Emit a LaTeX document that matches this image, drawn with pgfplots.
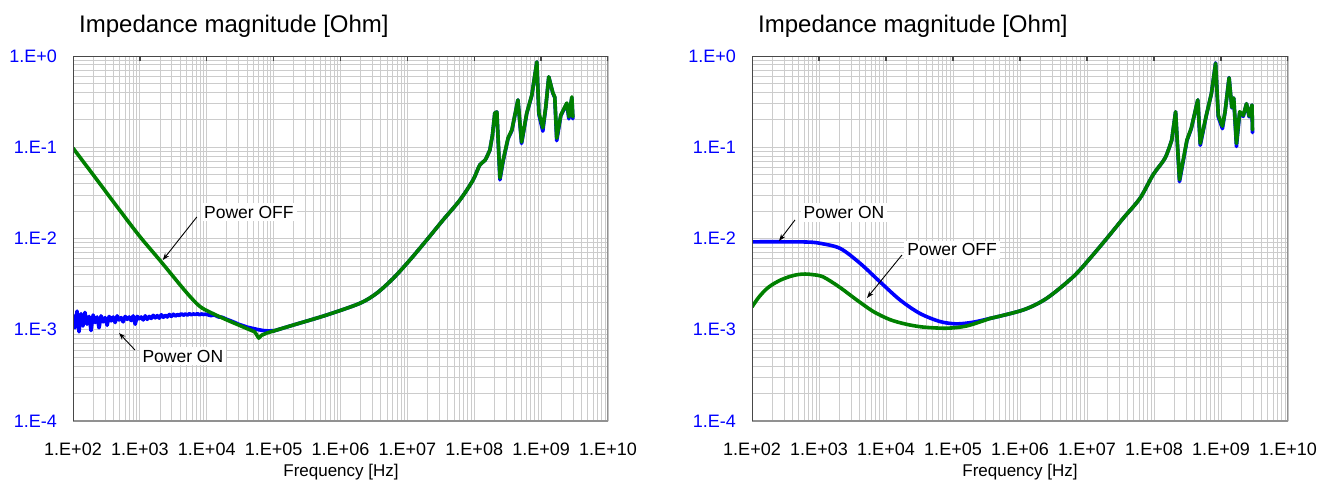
\documentclass[border=0pt]{standalone}
\usepackage{pgfplots}
\pgfplotsset{compat=1.18}
\usepackage{pgfplotstable}
\usepackage{fontspec}
\setmainfont{Liberation Sans}
\usetikzlibrary{arrows.meta}

\definecolor{onblue}{RGB}{0,0,255}
\definecolor{offgreen}{RGB}{0,128,0}
\definecolor{gridgray}{RGB}{204,204,204}
\definecolor{framedark}{RGB}{72,72,72}
\definecolor{framelight}{RGB}{145,145,145}

\newcommand\ticklabelfont{\fontsize{18bp}{20bp}\selectfont}
\newcommand\titlefont{\fontsize{24bp}{28bp}\selectfont}
\newcommand\labelfont{\fontsize{17bp}{20bp}\selectfont}
\newcommand\notefont{\fontsize{17.5bp}{20bp}\selectfont}

% ---------- left panel: power ON, low-frequency part (noisy) ----------
\pgfplotstableread{
f Z
100 1.45e-3
107 1.05e-3
115 1.60e-3
123 0.95e-3
132 1.50e-3
141 1.10e-3
151 1.55e-3
162 1.15e-3
174 1.40e-3
186 0.98e-3
200 1.45e-3
214 1.20e-3
229 1.38e-3
245 1.05e-3
263 1.42e-3
282 1.22e-3
302 1.36e-3
324 1.12e-3
347 1.40e-3
372 1.25e-3
398 1.38e-3
427 1.20e-3
457 1.42e-3
490 1.28e-3
525 1.36e-3
562 1.22e-3
603 1.40e-3
646 1.30e-3
692 1.38e-3
741 1.26e-3
794 1.42e-3
851 1.15e-3
912 1.40e-3
977 1.32e-3
1047 1.38e-3
1122 1.28e-3
1202 1.42e-3
1288 1.30e-3
1380 1.40e-3
1479 1.33e-3
1585 1.44e-3
1698 1.35e-3
1820 1.43e-3
1950 1.34e-3
2089 1.46e-3
2239 1.37e-3
2399 1.44e-3
2570 1.38e-3
2754 1.47e-3
2951 1.40e-3
3162 1.48e-3
3388 1.41e-3
3631 1.47e-3
3890 1.43e-3
4169 1.50e-3
4467 1.44e-3
4786 1.49e-3
5129 1.45e-3
5495 1.50e-3
5888 1.46e-3
6310 1.49e-3
6761 1.47e-3
7244 1.50e-3
7762 1.46e-3
8318 1.49e-3
8913 1.47e-3
9550 1.48e-3
10000 1.47e-3
11500 1.43e-3
13000 1.45e-3
15000 1.38e-3
17000 1.37e-3
20000 1.30e-3
25000 1.22e-3
30000 1.15e-3
40000 1.07e-3
50000 1.03e-3
60000 1.00e-3
70000 0.98e-3
85000 0.97e-3
100000 0.98e-3
}\leftOnLow

% ---------- left panel: power OFF, capacitive slope ----------
\pgfplotstableread{
f Z
100 0.098
200 0.050
500 0.0204
1000 0.0105
2000 5.75e-3
5000 2.55e-3
7900 1.80e-3
12000 1.52e-3
20000 1.28e-3
40000 1.03e-3
}\leftOffLow

% ---------- left panel: power OFF, notch near 60 kHz ----------
\pgfplotstableread{
f Z
40000 1.03e-3
52000 0.95e-3
60000 0.81e-3
66000 0.87e-3
79000 0.92e-3
100000 0.97e-3
}\leftOffNotch

% ---------- left panel: common inductive rise ----------
\pgfplotstableread{
f Z
1e5 0.97e-3
2e5 1.13e-3
6.2e5 1.45e-3
1.95e6 1.95e-3
3.47e6 2.51e-3
6.14e6 3.66e-3
1.09e7 5.81e-3
1.94e7 9.6e-3
3.43e7 0.0160
6.1e7 0.0264
9.6e7 0.0438
1.21e8 0.064
1.45e8 0.072
1.71e8 0.093
}\leftMid

% ---------- left panel: resonances, power ON ----------
\pgfplotstableread{
f Z
1.71e8 0.093
1.87e8 0.135
2.03e8 0.237
2.18e8 0.243
2.42e8 0.044
2.7e8 0.070
3.2e8 0.124
3.65e8 0.152
4.5e8 0.33
5.1e8 0.110
6.1e8 0.235
7.26e8 0.37
8.63e8 0.86
9.25e8 0.230
1.06e9 0.150
1.17e9 0.27
1.3e9 0.59
1.5e9 0.390
1.6e9 0.350
1.71e9 0.118
1.97e9 0.222
2.26e9 0.272
2.42e9 0.300
2.6e9 0.205
2.88e9 0.350
2.98e9 0.205
}\leftResOn

% ---------- left panel: resonances, power OFF ----------
\pgfplotstableread{
f Z
1.71e8 0.093
1.87e8 0.135
2.03e8 0.237
2.18e8 0.243
2.42e8 0.046
2.7e8 0.072
3.2e8 0.126
3.65e8 0.155
4.5e8 0.33
5.1e8 0.114
6.1e8 0.237
7.26e8 0.374
8.63e8 0.86
9.25e8 0.237
1.06e9 0.163
1.17e9 0.27
1.3e9 0.59
1.5e9 0.394
1.6e9 0.356
1.71e9 0.126
1.97e9 0.225
2.26e9 0.276
2.42e9 0.305
2.6e9 0.215
2.88e9 0.356
2.98e9 0.215
}\leftResOff

% ---------- right panel: power ON, low-frequency part ----------
\pgfplotstableread{
f Z
100 9.2e-3
300 9.2e-3
655 9.15e-3
1000 8.9e-3
2060 7.8e-3
4100 5.35e-3
8100 3.36e-3
16200 2.12e-3
32000 1.51e-3
64000 1.23e-3
113000 1.16e-3
200000 1.21e-3
356000 1.33e-3
}\rightOnLow

% ---------- right panel: power OFF, low-frequency part ----------
\pgfplotstableread{
f Z
100 1.78e-3
125 2.25e-3
160 2.75e-3
200 3.12e-3
270 3.52e-3
370 3.84e-3
480 4.02e-3
620 4.08e-3
800 4.02e-3
1150 3.80e-3
2000 2.95e-3
3600 2.14e-3
6500 1.58e-3
11500 1.29e-3
20000 1.15e-3
36000 1.07e-3
80000 1.04e-3
160000 1.10e-3
356000 1.33e-3
}\rightOffLow

% ---------- right panel: common inductive rise ----------
\pgfplotstableread{
f Z
3.56e5 1.33e-3
1.12e6 1.65e-3
2.5e6 2.21e-3
6.25e6 3.82e-3
1.11e7 6.07e-3
1.97e7 0.0100
3.48e7 0.0167
6.18e7 0.0276
9.7e7 0.050
1.46e8 0.076
1.84e8 0.12
}\rightMid

% ---------- right panel: resonances, power ON ----------
\pgfplotstableread{
f Z
1.84e8 0.12
2.1e8 0.245
2.4e8 0.042
3.1e8 0.118
3.6e8 0.160
4.5e8 0.33
4.9e8 0.105
6.0e8 0.218
7.2e8 0.39
8.3e8 0.84
9.1e8 0.215
1.05e9 0.160
1.15e9 0.245
1.32e9 0.58
1.45e9 0.270
1.55e9 0.345
1.7e9 0.102
1.9e9 0.240
2.15e9 0.218
2.4e9 0.30
2.63e9 0.215
2.9e9 0.29
2.95e9 0.145
}\rightResOn

% ---------- right panel: resonances, power OFF ----------
\pgfplotstableread{
f Z
1.84e8 0.12
2.1e8 0.245
2.4e8 0.044
3.1e8 0.12
3.6e8 0.162
4.5e8 0.33
4.9e8 0.11
6.0e8 0.22
7.2e8 0.39
8.3e8 0.83
9.1e8 0.224
1.05e9 0.17
1.15e9 0.245
1.32e9 0.575
1.45e9 0.275
1.55e9 0.347
1.7e9 0.11
1.9e9 0.245
2.15e9 0.224
2.4e9 0.30
2.63e9 0.22
2.9e9 0.29
2.95e9 0.155
}\rightResOff

\tikzset{
  note/.style={font=\notefont, fill=white, inner sep=3bp},
  pointer/.style={-{Stealth[length=7bp,width=5bp]}, line width=0.9bp, black},
  curve/.style={line join=round, line cap=round, line width=3.6bp},
}

% frame and decade ticks drawn on top of the grid
\newcommand\impframe{%
  \draw[framelight, line width=1.4bp] (rel axis cs:0,0) -- (rel axis cs:1,0) -- (rel axis cs:1,1);
  \draw[framedark, line width=1.5bp] (rel axis cs:1,1) -- (rel axis cs:0,1) -- (rel axis cs:0,0);
  \pgfplotsinvokeforeach{2,...,10}{\draw[framedark, line width=1.3bp] (axis cs:1e##1,1) -- ([yshift=-5bp]axis cs:1e##1,1);}
  \pgfplotsinvokeforeach{0,-1,-2,-3,-4}{\draw[framedark, line width=1.3bp] (axis cs:1e2,1e##1) -- ([xshift=-6bp]axis cs:1e2,1e##1);}
}

\begin{document}
\begin{tikzpicture}
\useasboundingbox (0,0) rectangle (1321bp,481bp);

% left panel
\begin{axis}[
    scale only axis, width=535bp, height=365bp, anchor=south west, at={(73bp,60bp)},
    xmode=log, ymode=log,
    xmin=1e2, xmax=1e10, ymin=1e-4, ymax=1,
    xtick={1e2,1e3,1e4,1e5,1e6,1e7,1e8,1e9,1e10},
    xticklabels={1.E+02,1.E+03,1.E+04,1.E+05,1.E+06,1.E+07,1.E+08,1.E+09,1.E+10},
    ytick={1e-4,1e-3,1e-2,1e-1,1},
    yticklabels={1.E-4,1.E-3,1.E-2,1.E-1,1.E+0},
    grid=both,
    major grid style={gridgray, line width=0.8bp},
    minor grid style={gridgray, line width=0.8bp},
    major tick length=0pt, minor tick length=0pt,
    axis line style={draw=none},
    xticklabel style={font=\ticklabelfont, anchor=north, inner sep=0pt, yshift=-22bp},
    yticklabel style={font=\ticklabelfont, text=onblue, anchor=east, inner sep=0pt, xshift=-16bp},
  ]
  \addplot[onblue, curve] table[x=f, y=Z] {\leftOnLow};
  \addplot[onblue, curve, smooth] table[x=f, y=Z] {\leftMid};
  \addplot[onblue, curve] table[x=f, y=Z] {\leftResOn};
  \addplot[offgreen, curve, smooth] table[x=f, y=Z] {\leftOffLow};
  \addplot[offgreen, curve] table[x=f, y=Z] {\leftOffNotch};
  \addplot[offgreen, curve, smooth] table[x=f, y=Z] {\leftMid};
  \addplot[offgreen, curve] table[x=f, y=Z] {\leftResOff};
  \draw[pointer] (axis cs:7.1e3,0.0172) -- (axis cs:2.2e3,5.8e-3);
  \node[note] at (axis cs:4.27e4,0.0195) {Power OFF};
  \draw[pointer] (axis cs:845,6.0e-4) -- (axis cs:488,9.2e-4);
  \node[note] at (axis cs:4.4e3,5.15e-4) {Power ON};
  \impframe
\end{axis}

% right panel
\begin{axis}[
    scale only axis, width=536bp, height=365bp, anchor=south west, at={(752bp,60bp)},
    xmode=log, ymode=log,
    xmin=1e2, xmax=1e10, ymin=1e-4, ymax=1,
    xtick={1e2,1e3,1e4,1e5,1e6,1e7,1e8,1e9,1e10},
    xticklabels={1.E+02,1.E+03,1.E+04,1.E+05,1.E+06,1.E+07,1.E+08,1.E+09,1.E+10},
    ytick={1e-4,1e-3,1e-2,1e-1,1},
    yticklabels={1.E-4,1.E-3,1.E-2,1.E-1,1.E+0},
    grid=both,
    major grid style={gridgray, line width=0.8bp},
    minor grid style={gridgray, line width=0.8bp},
    major tick length=0pt, minor tick length=0pt,
    axis line style={draw=none},
    xticklabel style={font=\ticklabelfont, anchor=north, inner sep=0pt, yshift=-22bp},
    yticklabel style={font=\ticklabelfont, text=onblue, anchor=east, inner sep=0pt, xshift=-16bp},
  ]
  \addplot[onblue, curve, smooth] table[x=f, y=Z] {\rightOnLow};
  \addplot[onblue, curve, smooth] table[x=f, y=Z] {\rightMid};
  \addplot[onblue, curve] table[x=f, y=Z] {\rightResOn};
  \addplot[offgreen, curve, smooth] table[x=f, y=Z] {\rightOffLow};
  \addplot[offgreen, curve, smooth] table[x=f, y=Z] {\rightMid};
  \addplot[offgreen, curve] table[x=f, y=Z] {\rightResOff};
  \draw[pointer] (axis cs:439,0.016) -- (axis cs:253,9.4e-3);
  \node[note] at (axis cs:2.36e3,0.0193) {Power ON};
  \draw[pointer] (axis cs:1.73e4,6.6e-3) -- (axis cs:5.2e3,2.23e-3);
  \node[note] at (axis cs:9.7e4,7.5e-3) {Power OFF};
  \impframe
\end{axis}

\node[font=\titlefont, anchor=base west, inner sep=0pt] at (79bp,448bp) {Impedance magnitude [Ohm]};
\node[font=\titlefont, anchor=base west, inner sep=0pt] at (758bp,448bp) {Impedance magnitude [Ohm]};
\node[font=\labelfont, anchor=base, inner sep=0pt] at (341bp,5bp) {Frequency [Hz]};
\node[font=\labelfont, anchor=base, inner sep=0pt] at (1020bp,5bp) {Frequency [Hz]};
\end{tikzpicture}
\end{document}
